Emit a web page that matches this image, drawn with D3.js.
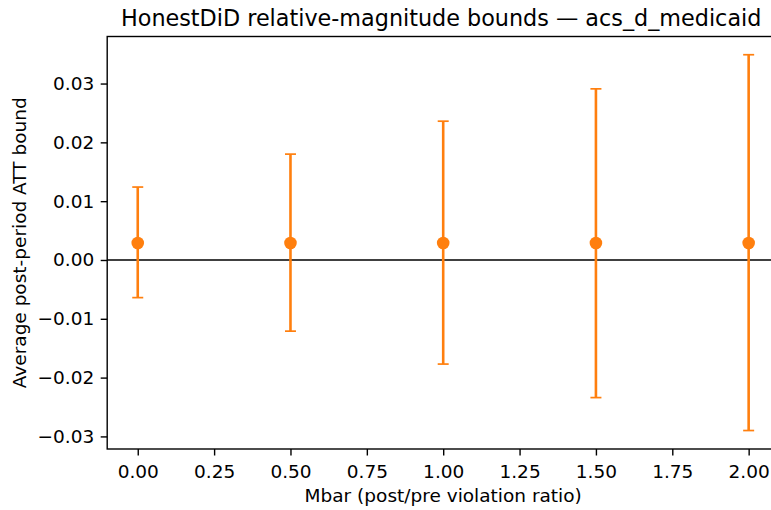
<!DOCTYPE html>
<html>
<head>
<meta charset="utf-8">
<script src="https://cdn.jsdelivr.net/npm/d3@7"></script>
<style>
  html, body { margin: 0; padding: 0; background: #fff; }
  svg { display: block; font-family: "DejaVu Sans", sans-serif; }
</style>
</head>
<body>
<svg id="chart" width="771" height="510"></svg>
<script>
// Relative-magnitude sensitivity: point estimate with robust CI per Mbar
const mbar = [0.0, 0.5, 1.0, 1.5, 2.0];
const estimate = [0.0029, 0.0029, 0.0029, 0.0029, 0.0029];
const lower = [-0.0064, -0.0121, -0.0177, -0.0234, -0.0290];
const upper = [0.0124, 0.0180, 0.0236, 0.0291, 0.0349];
const xTicks = [0, 0.25, 0.5, 0.75, 1.0, 1.25, 1.5, 1.75, 2.0];
const yTicks = [-0.03, -0.02, -0.01, 0.0, 0.01, 0.02, 0.03];

const svg = d3.select("#chart");
const plot = { left: 107.2, right: 779.2, top: 36.5, bottom: 449 };
const orange = "#ff7f0e";

const x = d3.scaleLinear().domain([-0.1, 2.1]).range([plot.left, plot.right]);
const y = d3.scaleLinear().domain([-0.03214, 0.0380]).range([plot.bottom, plot.top]);

// Zero reference line
svg.append("line")
  .attr("x1", plot.left).attr("x2", plot.right)
  .attr("y1", y(0)).attr("y2", y(0))
  .attr("stroke", "#000").attr("stroke-width", 1.4);

const data = mbar.map((m, i) => ({ m, est: estimate[i], lo: lower[i], hi: upper[i] }));
const g = svg.append("g");

// Error bars
g.selectAll(".bar").data(data).join("line")
  .attr("x1", d => x(d.m)).attr("x2", d => x(d.m))
  .attr("y1", d => y(d.lo)).attr("y2", d => y(d.hi))
  .attr("stroke", orange).attr("stroke-width", 2.6);

// Caps
["lo", "hi"].forEach(k => {
  g.selectAll(".cap-" + k).data(data).join("line")
    .attr("x1", d => x(d.m) - 5.5).attr("x2", d => x(d.m) + 5.5)
    .attr("y1", d => y(d[k])).attr("y2", d => y(d[k]))
    .attr("stroke", orange).attr("stroke-width", 1.7);
});

// Point estimates
g.selectAll(".pt").data(data).join("circle")
  .attr("cx", d => x(d.m)).attr("cy", d => y(d.est))
  .attr("r", 6.3).attr("fill", orange);

// Frame
svg.append("rect")
  .attr("x", plot.left).attr("y", plot.top)
  .attr("width", plot.right - plot.left).attr("height", plot.bottom - plot.top)
  .attr("fill", "none").attr("stroke", "#000").attr("stroke-width", 1.4);

// Axes
const fmt2 = d3.format(".2f");
const xAxis = svg.append("g")
  .attr("transform", `translate(0,${plot.bottom})`)
  .call(d3.axisBottom(x).tickValues(xTicks).tickFormat(fmt2).tickSize(6.5).tickPadding(6));
const yAxis = svg.append("g")
  .attr("transform", `translate(${plot.left},0)`)
  .call(d3.axisLeft(y).tickValues(yTicks)
    .tickFormat(v => fmt2(v).replace("-", "\u2212")).tickSize(6.5).tickPadding(6.5));

[xAxis, yAxis].forEach(a => {
  a.select(".domain").remove();
  a.selectAll(".tick line").attr("stroke", "#000").attr("stroke-width", 1.4);
  a.selectAll(".tick text").attr("fill", "#000")
    .style("font-size", "18.5px").style("font-family", "DejaVu Sans");
});
xAxis.selectAll(".tick text").attr("dy", "0.9em");

// Title and axis labels
svg.append("text")
  .attr("x", (plot.left + plot.right) / 2 - 2).attr("y", 26)
  .attr("text-anchor", "middle")
  .style("font-size", "22.3px")
  .text("HonestDiD relative-magnitude bounds \u2014 acs_d_medicaid");

svg.append("text")
  .attr("x", (plot.left + plot.right) / 2).attr("y", 502)
  .attr("text-anchor", "middle")
  .style("font-size", "18.5px")
  .text("Mbar (post/pre violation ratio)");

svg.append("text")
  .attr("transform", `translate(26,${(plot.top + plot.bottom) / 2}) rotate(-90)`)
  .attr("text-anchor", "middle")
  .style("font-size", "18.5px")
  .text("Average post-period ATT bound");
</script>
</body>
</html>
